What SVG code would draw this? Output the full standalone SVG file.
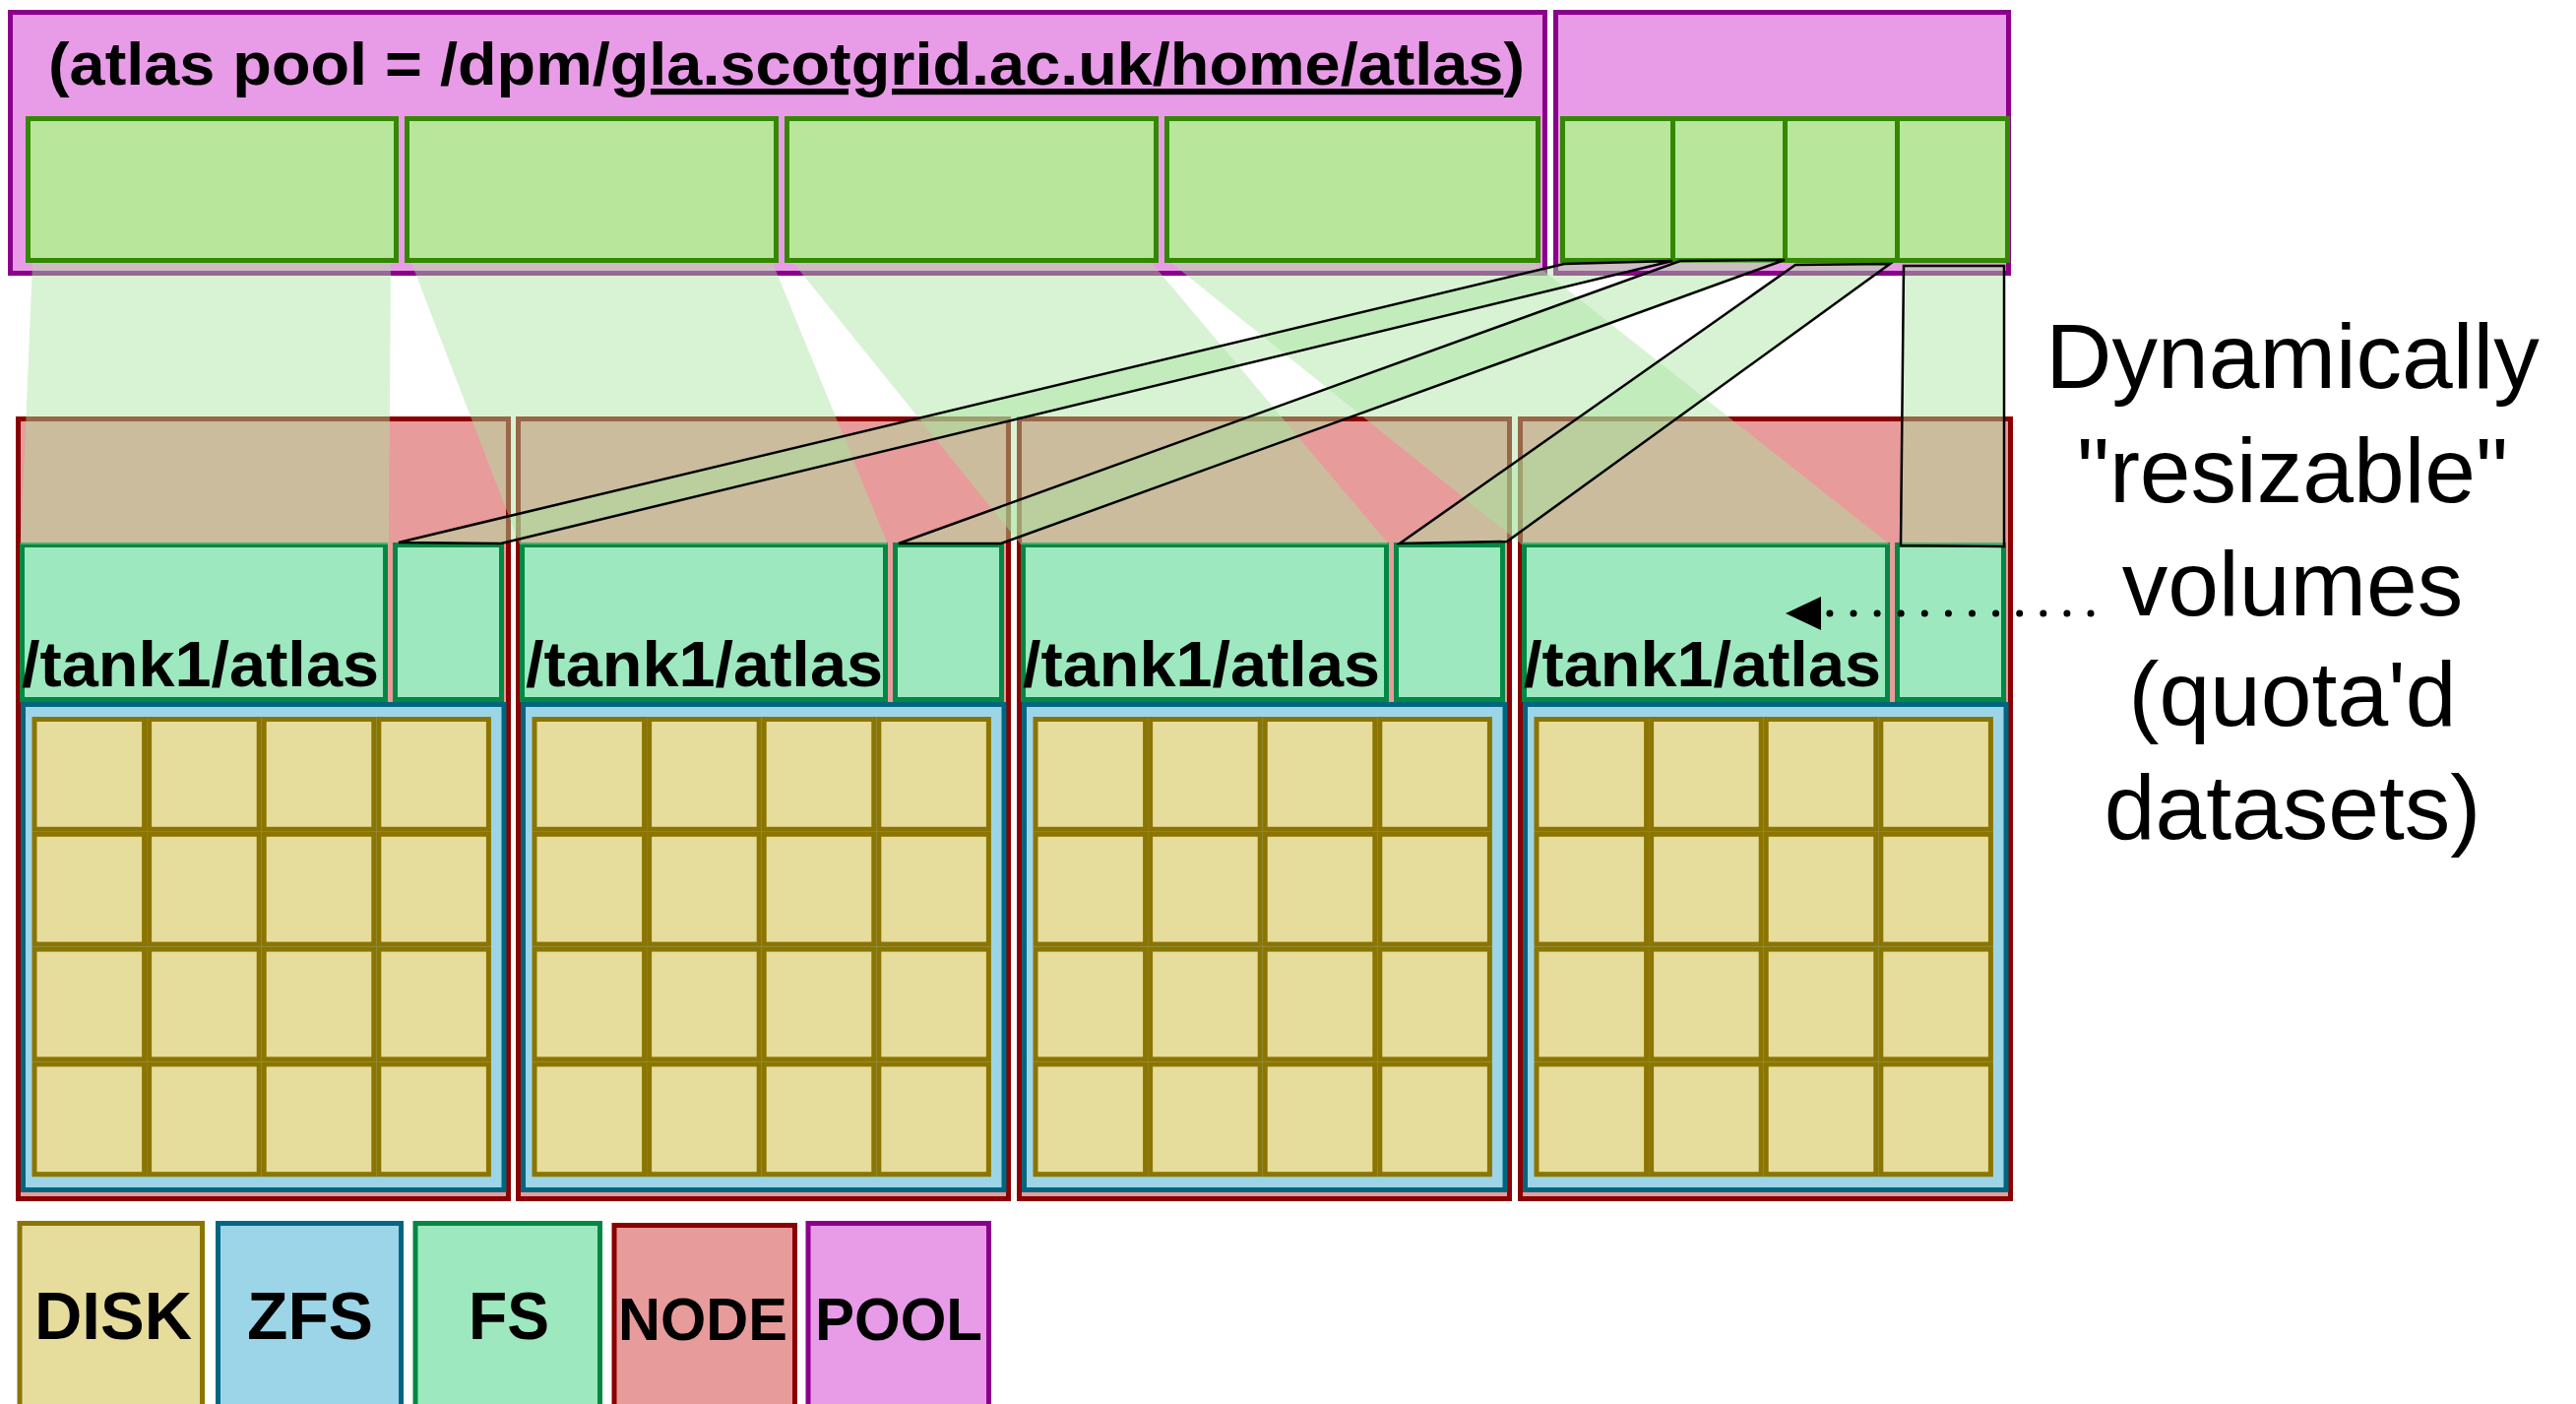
<svg xmlns="http://www.w3.org/2000/svg" xmlns:xlink="http://www.w3.org/1999/xlink" width="2617" height="1426" viewBox="0 0 2617 1426">
<style>
.pool{fill:#e89be6;stroke:#8b008b;stroke-width:5}
.pfs{fill:#b8e69a;stroke:#338800;stroke-width:5}
.node{fill:#e89b9b;stroke:#8b0000;stroke-width:5}
.fs{fill:#9de8bf;stroke:#008844;stroke-width:5}
.zfs{fill:#9cd5e8;stroke:#006680;stroke-width:5}
.disk{fill:#e6dc9c;stroke:#8b7500;stroke-width:5}
.map{fill:#a8e4a0;fill-opacity:0.45;stroke:none}
.vol{fill:#a8e4a0;fill-opacity:0.45;stroke:#000;stroke-width:2.5;stroke-linejoin:miter}
.b{font-family:"Liberation Sans",Arial,Helvetica,sans-serif;font-weight:bold;fill:#000}
.r{font-family:"Liberation Sans",Arial,Helvetica,sans-serif;font-size:93px;fill:#000;text-anchor:middle}
.lbl{font-size:64px}
.leg{text-anchor:middle}
</style>
<defs>
<g id="diskgrid">
<rect class="disk" x="35" y="730.5" width="111.6" height="111.8"/>
<rect class="disk" x="151.6" y="730.5" width="111.6" height="111.8"/>
<rect class="disk" x="268.2" y="730.5" width="111.6" height="111.8"/>
<rect class="disk" x="384.8" y="730.5" width="111.6" height="111.8"/>
<rect class="disk" x="35" y="847.3" width="111.6" height="111.8"/>
<rect class="disk" x="151.6" y="847.3" width="111.6" height="111.8"/>
<rect class="disk" x="268.2" y="847.3" width="111.6" height="111.8"/>
<rect class="disk" x="384.8" y="847.3" width="111.6" height="111.8"/>
<rect class="disk" x="35" y="964.1" width="111.6" height="111.8"/>
<rect class="disk" x="151.6" y="964.1" width="111.6" height="111.8"/>
<rect class="disk" x="268.2" y="964.1" width="111.6" height="111.8"/>
<rect class="disk" x="384.8" y="964.1" width="111.6" height="111.8"/>
<rect class="disk" x="35" y="1080.9" width="111.6" height="111.8"/>
<rect class="disk" x="151.6" y="1080.9" width="111.6" height="111.8"/>
<rect class="disk" x="268.2" y="1080.9" width="111.6" height="111.8"/>
<rect class="disk" x="384.8" y="1080.9" width="111.6" height="111.8"/>
</g>
<marker id="ah" markerUnits="userSpaceOnUse" viewBox="0 0 36 34" markerWidth="36" markerHeight="34" refX="-8" refY="17" orient="auto" overflow="visible">
<path d="M0,0 L36,17 L0,34 Z" fill="#000"/>
</marker>
</defs>
<rect width="2617" height="1426" fill="#fff"/>

<g id="pool-atlas">
<rect class="pool" x="10.5" y="12.5" width="1559" height="265"/>
<text class="b" x="49" y="86" font-size="62" textLength="1500" lengthAdjust="spacingAndGlyphs">(atlas pool = /dpm/<tspan text-decoration="underline">gla.scotgrid.ac.uk/home/atlas</tspan>)</text>
<rect class="pfs" x="28.5" y="120.5" width="374" height="144"/>
<rect class="pfs" x="413.5" y="120.5" width="375" height="144"/>
<rect class="pfs" x="799.5" y="120.5" width="375" height="144"/>
<rect class="pfs" x="1185.5" y="120.5" width="377" height="144"/>
</g>

<g id="pool-2">
<rect class="pool" x="1580.5" y="12.5" width="460" height="265"/>
<rect class="pfs" x="1587.5" y="120.5" width="112" height="144"/>
<rect class="pfs" x="1699.5" y="120.5" width="114" height="144"/>
<rect class="pfs" x="1813.5" y="120.5" width="114" height="144"/>
<rect class="pfs" x="1927.5" y="120.5" width="112" height="144"/>
</g>

<g id="node1">
<rect class="node" x="18.5" y="425.5" width="498" height="792"/>
<rect class="zfs" x="23.5" y="715.5" width="488.5" height="493"/>
<rect class="fs" x="22.5" y="553.5" width="369" height="157"/>
<rect class="fs" x="401.5" y="553.5" width="108" height="157"/>
<use xlink:href="#diskgrid"/>
<text class="b lbl" x="22" y="697" textLength="363" lengthAdjust="spacingAndGlyphs">/tank1/atlas</text>
</g>

<g id="node2" transform="translate(508,0)">
<rect class="node" x="18.5" y="425.5" width="498" height="792"/>
<rect class="zfs" x="23.5" y="715.5" width="488.5" height="493"/>
<rect class="fs" x="22.5" y="553.5" width="369" height="157"/>
<rect class="fs" x="401.5" y="553.5" width="108" height="157"/>
<use xlink:href="#diskgrid"/>
<text class="b lbl" x="26" y="697" textLength="363" lengthAdjust="spacingAndGlyphs">/tank1/atlas</text>
</g>

<g id="node3" transform="translate(1017,0)">
<rect class="node" x="18.5" y="425.5" width="498" height="792"/>
<rect class="zfs" x="23.5" y="715.5" width="488.5" height="493"/>
<rect class="fs" x="22.5" y="553.5" width="369" height="157"/>
<rect class="fs" x="401.5" y="553.5" width="108" height="157"/>
<use xlink:href="#diskgrid"/>
<text class="b lbl" x="22" y="697" textLength="363" lengthAdjust="spacingAndGlyphs">/tank1/atlas</text>
</g>

<g id="node4" transform="translate(1526,0)">
<rect class="node" x="18.5" y="425.5" width="498" height="792"/>
<rect class="zfs" x="23.5" y="715.5" width="488.5" height="493"/>
<rect class="fs" x="22.5" y="553.5" width="369" height="157"/>
<rect class="fs" x="401.5" y="553.5" width="108" height="157"/>
<use xlink:href="#diskgrid"/>
<text class="b lbl" x="22" y="697" textLength="363" lengthAdjust="spacingAndGlyphs">/tank1/atlas</text>
</g>

<g id="connectors">
<polygon class="map" points="33,267 397,267 395,553 21,553"/>
<polygon class="map" points="418,267 785,267 902,553 528,553"/>
<polygon class="map" points="806,267 1170,267 1411,553 1037,553"/>
<polygon class="map" points="1190,267 1558,267 1920,553 1546,553"/>
<polygon class="vol" points="1589,268 1699,265 509,552 405,551"/>
<polygon class="vol" points="1707,265 1813,264 1017,552 913,552"/>
<polygon class="vol" points="1824,269 1920,268 1531,550 1422,552"/>
<polygon class="vol" points="1934,270 2036,270 2036,555 1931,554"/>
<line x1="2124" y1="623" x2="1858" y2="623" stroke="#000" stroke-width="7" stroke-linecap="round" stroke-dasharray="0 24.1" marker-end="url(#ah)"/>
</g>

<g id="note">
<text class="r" x="2329" y="394">Dynamically</text>
<text class="r" x="2329" y="510">"resizable"</text>
<text class="r" x="2329" y="625">volumes</text>
<text class="r" x="2329" y="737">(quota'd</text>
<text class="r" x="2329" y="852">datasets)</text>
</g>

<g id="legend-disk">
<rect class="disk" x="20" y="1242.5" width="185.5" height="200"/>
<text class="b leg" x="115" y="1360" font-size="68" textLength="160" lengthAdjust="spacingAndGlyphs">DISK</text>
</g>
<g id="legend-zfs">
<rect class="zfs" x="221.5" y="1242.5" width="186" height="200"/>
<text class="b leg" x="315" y="1360" font-size="68" textLength="128" lengthAdjust="spacingAndGlyphs">ZFS</text>
</g>
<g id="legend-fs">
<rect class="fs" x="422" y="1242.5" width="187.5" height="200"/>
<text class="b leg" x="517" y="1360" font-size="68" textLength="82" lengthAdjust="spacingAndGlyphs">FS</text>
</g>
<g id="legend-node">
<rect class="node" x="624" y="1244.5" width="183.5" height="200"/>
<text class="b leg" x="714" y="1361" font-size="62" textLength="172" lengthAdjust="spacingAndGlyphs">NODE</text>
</g>
<g id="legend-pool">
<rect class="pool" x="821" y="1242.5" width="183.5" height="200"/>
<text class="b leg" x="913" y="1361" font-size="62" textLength="170" lengthAdjust="spacingAndGlyphs">POOL</text>
</g>
</svg>
